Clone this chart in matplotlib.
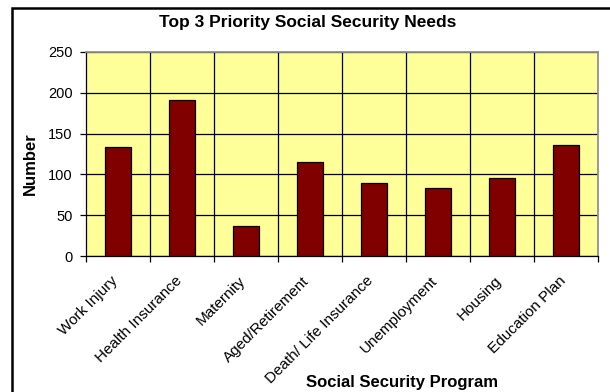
import matplotlib
matplotlib.use("Agg")
import matplotlib.pyplot as plt
from matplotlib.patches import Rectangle
import numpy as np

plt.rcParams['font.family'] = ['Liberation Sans', 'DejaVu Sans']

programs = ["Work Injury", "Health Insurance", "Maternity", "Aged/Retirement",
            "Death/ Life Insurance", "Unemployment", "Housing", "Education Plan"]
counts = [134, 191, 37, 115, 89, 83, 95, 136]
yticks = [0, 50, 100, 150, 200, 250]

fig = plt.figure(figsize=(6.1, 3.92), dpi=100)
# plot area in pixels: x 86..598, y 52..256
ax = fig.add_axes([86 / 610, 1 - 256 / 392, (598 - 86) / 610, (256 - 52) / 392])
ax.set_facecolor('#FFFF99')

x = np.arange(len(programs))
ax.bar(x, counts, width=0.4, color='#800000', edgecolor='black', linewidth=0.9, zorder=3)

ax.set_xlim(-0.5, len(programs) - 0.5)
ax.set_ylim(0, 250)
ax.set_yticks(yticks)
ax.set_yticklabels([str(v) for v in yticks], fontsize=10.5)
ax.yaxis.grid(True, color='black', linewidth=0.9, zorder=1)

# ticks and vertical grid lines sit on the category boundaries
bounds = np.arange(len(programs) + 1) - 0.5
ax.set_xticks(bounds)
ax.set_xticklabels([])
ax.tick_params(axis='x', direction='out', length=4.5, width=0.9)
ax.tick_params(axis='y', direction='out', length=4.5, width=0.9, pad=5)
for b in bounds[1:-1]:
    ax.axvline(b, color='black', linewidth=0.9, zorder=1)

for i, name in enumerate(programs):
    ax.text(i - 0.04, -28, name, rotation=45, rotation_mode='anchor',
            ha='right', va='center', fontsize=11, clip_on=False)

for side in ['top', 'right']:
    ax.spines[side].set_color('#909090')
    ax.spines[side].set_linewidth(1.3)
for side in ['left', 'bottom']:
    ax.spines[side].set_color('black')
    ax.spines[side].set_linewidth(0.9)

fig.text(30 / 610, 1 - 164 / 392, "Number", rotation=90, fontsize=12,
         fontweight='bold', ha='center', va='center')
fig.text(402 / 610, 1 - 382 / 392, "Social Security Program", fontsize=12,
         fontweight='bold', ha='center', va='center')
fig.text(308 / 610, 1 - 23 / 392, "Top 3 Priority Social Security Needs", fontsize=12.5,
         fontweight='bold', ha='center', va='center')

# chart frame, runs off the right and bottom of the image
fig.patches.append(Rectangle((12 / 610, -0.1), 1.2, 1.1 - 8 / 392,
                             transform=fig.transFigure, fill=False,
                             edgecolor='black', linewidth=1.8))

fig.savefig("out.png", dpi=100)
